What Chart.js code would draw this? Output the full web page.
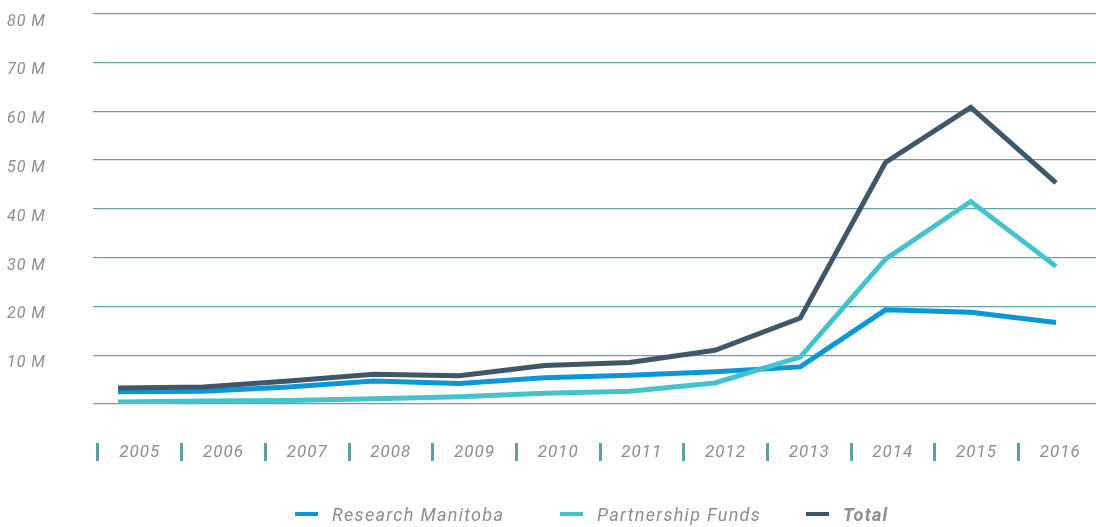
<!DOCTYPE html>
<html>
<head>
<meta charset="utf-8">
<script src="https://cdn.jsdelivr.net/npm/chart.js@4.4.0/dist/chart.umd.min.js"></script>
<style>
  html, body { margin: 0; padding: 0; background: #ffffff; overflow: hidden; width: 1096px; height: 527px; }
  #wrap { position: absolute; left: 0; top: 0; width: 1102px; height: 527px; }
  #legend { position: absolute; left: 0; top: 503px; width: 1096px; height: 22px;
            font-family: Roboto, "Open Sans", sans-serif; font-style: italic; font-size: 18px; color: #8d8d8d; letter-spacing: 1.3px; white-space: nowrap; }
  .item { position: absolute; top: 0; height: 22px; display: flex; align-items: center; }
  .sw { width: 23px; height: 4px; margin-right: 14px; }
</style>
</head>
<body>
<div id="wrap"><canvas id="c"></canvas></div>
<div id="legend"></div>
<script>
const years = ['2005','2006','2007','2008','2009','2010','2011','2012','2013','2014','2015','2016'];
const seriesNames = ['Research Manitoba', 'Partnership Funds', 'Total'];
const research = [2.5, 2.6, 3.5, 4.7, 4.2, 5.4, 5.9, 6.6, 7.6, 19.3, 18.8, 16.7];
const partnership = [0.4, 0.6, 0.7, 1.1, 1.5, 2.2, 2.6, 4.3, 9.6, 29.7, 41.5, 28.2];
const total = [3.3, 3.5, 4.7, 6.1, 5.8, 7.9, 8.5, 11.0, 17.6, 49.5, 60.8, 45.3];
const yTicks = [0, 10, 20, 30, 40, 50, 60, 70, 80];
const legendLeft = [295, 560, 806];

const colors = ['#0a97d9', '#45c3cd', '#3f5768'];
const gridColor = '#62a2a2';
const textColor = '#8d8d8d';

function ds(label, data, color, order) {
  return { label, data, borderColor: color, backgroundColor: color, borderWidth: 5, pointRadius: 0,
           pointHoverRadius: 0, tension: 0, fill: false, order, borderCapStyle: 'butt', borderJoinStyle: 'miter',
           xAxisID: 'x', yAxisID: 'y' };
}

const spacingPlugin = {
  id: 'spacing',
  beforeDraw(chart) { chart.ctx.letterSpacing = '1px'; }
};

const chart = new Chart(document.getElementById('c'), {
  type: 'line',
  plugins: [spacingPlugin],
  data: {
    labels: years,
    datasets: [
      ds(seriesNames[0], research, colors[0], 3),
      ds(seriesNames[1], partnership, colors[1], 2),
      ds(seriesNames[2], total, colors[2], 1)
    ]
  },
  options: {
    responsive: true,
    maintainAspectRatio: false,
    animation: false,
    devicePixelRatio: 1,
    layout: { padding: { top: 11, left: 7, right: 0, bottom: 54 } },
    plugins: { legend: { display: false }, tooltip: { enabled: false } },
    scales: {
      y: {
        min: 0, max: 80,
        afterBuildTicks: (s) => { s.ticks = yTicks.map(v => ({ value: v })); },
        afterFit: (s) => { s.width = 91; },
        border: { display: false },
        grid: { color: gridColor, lineWidth: 1.2, drawTicks: true, tickLength: 5, tickColor: gridColor },
        ticks: {
          crossAlign: 'far', labelOffset: 8, padding: 4,
          color: textColor,
          font: { family: 'Roboto, "Open Sans", sans-serif', style: 'italic', size: 16 },
          callback: (v) => v === 0 ? '' : v + ' M'
        }
      },
      x: {
        type: 'linear',
        position: 'bottom',
        weight: 0,
        min: 2004.765, max: 2016.539,
        afterFit: (s) => { s.height = 39; },
        border: { display: false },
        grid: { display: false },
        ticks: { display: false }
      },
      xl: {
        type: 'category',
        position: 'bottom',
        weight: 1,
        offset: true,
        afterFit: (s) => { s.height = 30; },
        border: { display: false },
        grid: { offset: true, drawOnChartArea: false, drawTicks: true, tickLength: 18, tickWidth: 3, tickColor: '#5e9fa0' },
        ticks: {
          padding: -18.5, maxRotation: 0, autoSkip: false,
          color: textColor,
          font: { family: 'Roboto, "Open Sans", sans-serif', style: 'italic', size: 17 }
        }
      }
    }
  }
});

const legend = document.getElementById('legend');
chart.data.datasets.forEach((d, i) => {
  const item = document.createElement('div');
  item.className = 'item';
  item.style.left = legendLeft[i] + 'px';
  const sw = document.createElement('span');
  sw.className = 'sw';
  sw.style.background = d.borderColor;
  const t = document.createElement('span');
  t.textContent = d.label;
  if (d.label === 'Total') t.style.fontWeight = 'bold';
  item.appendChild(sw); item.appendChild(t);
  legend.appendChild(item);
});
</script>
</body>
</html>
